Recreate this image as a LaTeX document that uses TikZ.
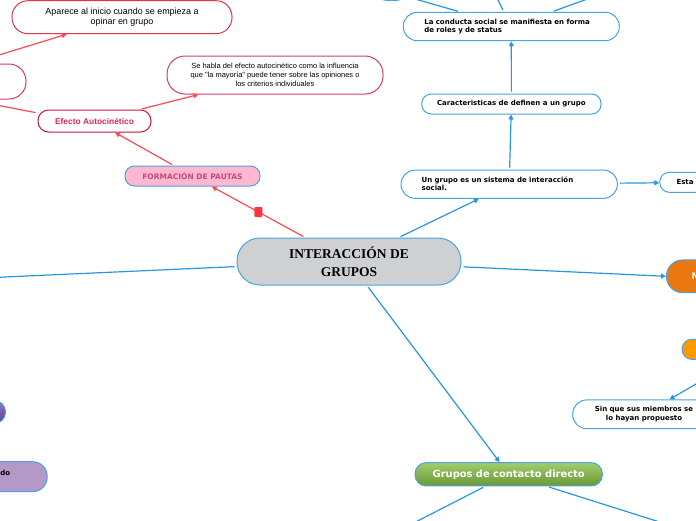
\documentclass[tikz,border=0pt]{standalone}
\usepackage{fontspec}
\setmainfont{Liberation Serif}
\newfontfamily\dvs{DejaVu Sans}
\newfontfamily\arl{Liberation Sans}
\usetikzlibrary{arrows.meta}
\definecolor{nb}{RGB}{72,163,224}
\definecolor{bl}{RGB}{38,150,222}
\definecolor{rl}{RGB}{255,72,82}
\definecolor{mk}{RGB}{255,51,68}
\definecolor{cgrey}{RGB}{207,208,210}
\definecolor{pinkf}{RGB}{255,184,208}
\definecolor{pinkt}{RGB}{200,70,120}
\definecolor{crim}{RGB}{200,20,60}
\definecolor{crimt}{RGB}{222,36,94}
\definecolor{rose}{RGB}{215,60,100}
\definecolor{redb}{RGB}{232,50,72}
\definecolor{orng}{RGB}{235,119,15}
\definecolor{orng2}{RGB}{255,153,0}
\definecolor{grt}{RGB}{160,205,110}
\definecolor{grb}{RGB}{104,152,52}
\definecolor{pur1}{RGB}{150,122,192}
\definecolor{pur2}{RGB}{92,62,142}
\definecolor{purl}{RGB}{180,153,200}
\tikzset{
  box/.style={draw=nb, line width=1pt, fill=white, inner sep=0pt},
  redbox/.style={box, draw=#1},
  small/.style={font=\dvs\bfseries\fontsize{7}{8}\selectfont},
  bline/.style={draw=bl, line width=1.2pt, shorten <=2pt, -{Triangle[length=5pt,width=5pt]}},
  rline/.style={draw=rl, line width=1.2pt, shorten <=2pt, -{Triangle[length=5pt,width=5pt]}},
  marker/.style={fill=mk, rounded corners=1pt, minimum width=8pt, minimum height=10pt, inner sep=0pt},
}
\begin{document}
\begin{tikzpicture}[x=1pt,y=-1pt]
\useasboundingbox (0,0) rectangle (696,520);
% central
\node[box, fill=cgrey, minimum width=224pt, minimum height=47pt, rounded corners=23pt,
  align=center, font=\bfseries\fontsize{13.5}{18}\selectfont] (c) at (349,261.5) {INTERACCIÓN DE\\GRUPOS};
% red branch
\node[box, fill=pinkf, minimum width=135pt, minimum height=20pt, rounded corners=9.5pt,
  text=pinkt, font=\dvs\bfseries\fontsize{7.5}{8}\selectfont] (fp) at (192.5,176) {FORMACIÓN DE PAUTAS};
\node[redbox=crim, minimum width=113pt, minimum height=22pt, rounded corners=10.5pt,
  text=crimt, font=\arl\bfseries\fontsize{8.4}{10}\selectfont] (ea) at (94.5,121) {Efecto Autocinético};
\node[redbox=rose, minimum width=216pt, minimum height=38pt, rounded corners=18pt,
  align=center, font=\arl\fontsize{7.45}{9}\selectfont] (sh) at (275,75)
  {Se habla del efecto autocinético como la influencia\\que "la mayoría" puede tener sobre las opiniones o\\los criterios individuales};
\node[redbox=redb, minimum width=220pt, minimum height=33pt, rounded corners=16pt,
  align=center, font=\arl\fontsize{8.95}{10}\selectfont] (ap) at (122,17.2)
  {Aparece al inicio cuando se empieza a\\opinar en grupo};
\node[redbox=rose, minimum width=100pt, minimum height=35pt, rounded corners=17pt] (lr) at (-24,81.5) {};
\coordinate (lr2) at (-40,98);
\coordinate (lr3) at (-40,67);
% blue branch top right
\node[box, small, minimum width=216pt, minimum height=28.4pt, rounded corners=14pt,
  text width=174pt, inner xsep=21pt, align=left] (lc) at (511.3,26.5)
  {La conducta social se manifiesta en forma\\de roles y de status};
\node[box, small, minimum width=179.3pt, minimum height=20pt, rounded corners=9.5pt] (ca) at (511.4,104)
  {Caracteristicas de definen a un grupo};
\node[box, small, minimum width=216.3pt, minimum height=28.3pt, rounded corners=14pt,
  text width=175pt, inner xsep=20.7pt, align=left] (ug) at (509.2,184.2)
  {Un grupo es un sistema de interacción\\social.};
\node[box, small, minimum height=20pt, rounded corners=9.5pt, text width=66.6pt, inner xsep=16.7pt,
  align=left, anchor=west] (es) at (659.3,182.3) {Esta};
\node[box, minimum width=30pt, minimum height=20pt, rounded corners=9.5pt, anchor=south east] (tp) at (407,0.8) {};
\coordinate (t1) at (380,-11);
\coordinate (t2) at (493,-10);
\coordinate (t3) at (615,-11);
% right
\node[box, fill=orng, minimum height=32.7pt, rounded corners=16pt, text width=75pt, inner xsep=25pt,
  align=left, text=white, font=\dvs\bfseries\fontsize{9}{11}\selectfont, anchor=west] (mo) at (666,276.3) {M};
\node[box, fill=orng2, minimum width=60pt, minimum height=20pt, rounded corners=9.5pt, anchor=west] (o2) at (681.7,349.3) {};
\coordinate (rt) at (720,370);
\node[box, minimum width=142.6pt, minimum height=28.7pt, rounded corners=14pt,
  align=center, font=\dvs\bfseries\fontsize{7}{8.7}\selectfont] (sq) at (644,414.3)
  {Sin que sus miembros se\\lo hayan propuesto};
% bottom
\node[box, top color=grt, bottom color=grb, minimum width=187.3pt, minimum height=23.3pt, rounded corners=11pt,
  text=white, font=\dvs\bfseries\fontsize{9.9}{11}\selectfont] (gc) at (508.7,474.3) {Grupos de contacto directo};
\coordinate (b1) at (400,530);
\coordinate (b2) at (685,530);
% left
\coordinate (lft) at (-40,279);
\node[box, top color=pur1, bottom color=pur2, minimum width=60pt, minimum height=22.6pt, rounded corners=11pt,
  anchor=east] (p1) at (6,412) {};
\node[box, fill=purl, minimum height=30pt, rounded corners=14.5pt, text width=50pt, inner xsep=37pt,
  align=right, small, anchor=east] (p2) at (47.7,476.7) {do\\\mbox{}};
% red connectors
\draw[rline] (c) -- node[marker] (mk) {} (fp);
\draw[rline] (fp) -- (ea);
\draw[rline] (ea) -- (sh);
\draw[rline] (ea.172) -- (lr2);
\draw[rline] (lr3) -- (ap);
% blue connectors
\draw[bline] (c) -- (ug);
\draw[bline] (ug) -- (ca);
\draw[bline] (ca) -- (lc);
\draw[bline] (lc) -- (t1);
\draw[bline] (lc) -- (t2);
\draw[bline] (lc) -- (t3);
\draw[bline] (ug) -- (es);
\draw[bline] (c) -- (mo.west);
\draw[bline] (c) -- (lft);
\draw[bline] (rt) -- (sq);
\draw[bline] (c) -- (gc);
\draw[bline] (gc) -- (b1);
\draw[bline] (gc) -- (b2);
\end{tikzpicture}
\end{document}
